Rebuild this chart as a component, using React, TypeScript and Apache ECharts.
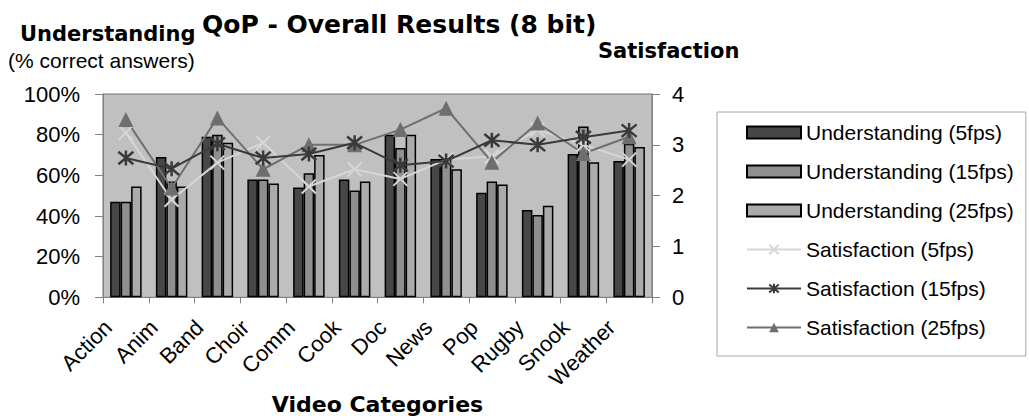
import React, { useEffect, useRef } from "react";
import * as echarts from "echarts";

const categories = ["Action", "Anim", "Band", "Choir", "Comm", "Cook", "Doc", "News", "Pop", "Rugby", "Snook", "Weather"];
const understanding5 = [47, 69, 79, 58, 54, 58, 80, 68, 51.5, 43, 70.5, 67];
const understanding15 = [47, 57, 80, 58, 61, 52.5, 73.5, 68, 57, 40.5, 84, 75.5];
const understanding25 = [54.5, 54.5, 76, 56, 70, 57, 80, 63, 55.5, 45, 66.5, 74];
const satisfaction5 = [3.24, 1.92, 2.65, 3.04, 2.18, 2.52, 2.33, 2.71, 2.77, 3.3, 3.0, 2.71];
const satisfaction15 = [2.74, 2.53, 3.02, 2.74, 2.82, 3.04, 2.6, 2.68, 3.09, 3.0, 3.15, 3.28];
const satisfaction25 = [3.5, 2.15, 3.53, 2.52, 3.0, 3.0, 3.3, 3.72, 2.66, 3.43, 2.83, 3.16];
const leftTicks = [0, 100, 20];
const rightTicks = [0, 4, 1];

const REG = '"Liberation Sans", Arial, sans-serif';
const BOLD = '"DejaVu Sans", sans-serif';

const X_PATH = "path://M0,0L10,10M10,0L0,10";
const STAR_PATH = "path://M0,0L10,10M10,0L0,10M5,-1L5,11";

export default function App() {
  const ref = useRef<HTMLDivElement>(null);
  useEffect(() => {
    if (!ref.current) return;
    const chart = echarts.init(ref.current, null, { renderer: "svg" });
    const barBase = { type: "bar", barWidth: 10.5, barGap: "0%" };
    const option: any = {
      animation: false,
      backgroundColor: "#ffffff",
      title: {
        text: "QoP - Overall Results (8 bit)",
        left: 202,
        top: 12,
        padding: 0,
        textStyle: { fontFamily: BOLD, fontWeight: "bold", fontSize: 25, color: "#000" },
      },
      graphic: [
        { type: "text", x: 20, y: 23, style: { text: "Understanding", font: `bold 21px ${BOLD}`, fill: "#000", verticalAlign: "top" } },
        { type: "text", x: 8, y: 50, style: { text: "(% correct answers)", font: `21px ${REG}`, fill: "#000", verticalAlign: "top" } },
        { type: "text", x: 598, y: 40, style: { text: "Satisfaction", font: `bold 21px ${BOLD}`, fill: "#000", verticalAlign: "top" } },
      ],
      grid: {
        left: 103,
        right: 377,
        top: 94,
        bottom: 117,
        show: true,
        backgroundColor: "#c0c0c0",
        borderColor: "#707070",
        borderWidth: 1,
      },
      legend: {
        orient: "vertical",
        left: 717,
        top: 112,
        padding: [10, 12, 18, 29],
        itemGap: 18,
        itemWidth: 54,
        itemHeight: 12,
        borderColor: "#a8a8a8",
        borderWidth: 1,
        textStyle: { fontSize: 21, fontFamily: REG, color: "#000" },
        data: [
          { name: "Understanding (5fps)", icon: "rect" },
          { name: "Understanding (15fps)", icon: "rect" },
          { name: "Understanding (25fps)", icon: "rect" },
          { name: "Satisfaction (5fps)" },
          { name: "Satisfaction (15fps)" },
          { name: "Satisfaction (25fps)" },
        ],
      },
      xAxis: {
        type: "category",
        data: categories,
        axisLine: { lineStyle: { color: "#808080", width: 1 } },
        axisTick: { show: true, length: 6, lineStyle: { color: "#808080" } },
        axisLabel: {
          rotate: 45,
          interval: 0,
          align: "right",
          verticalAlign: "bottom",
          padding: [0, 0, 14, 0],
          margin: 44,
          fontSize: 22,
          fontFamily: REG,
          color: "#000",
        },
        name: "Video Categories",
        nameLocation: "middle",
        nameGap: 87,
        nameTextStyle: { fontFamily: BOLD, fontWeight: "bold", fontSize: 22, color: "#000" },
      },
      yAxis: [
        {
          type: "value",
          position: "left",
          min: leftTicks[0],
          max: leftTicks[1],
          interval: leftTicks[2],
          axisLine: { show: true, lineStyle: { color: "#808080" } },
          axisTick: { show: true, length: 8, lineStyle: { color: "#808080" } },
          axisLabel: { formatter: "{value}%", margin: 23, fontSize: 22, fontFamily: REG, color: "#000" },
          splitLine: { show: false },
        },
        {
          type: "value",
          position: "right",
          min: rightTicks[0],
          max: rightTicks[1],
          interval: rightTicks[2],
          axisLine: { show: true, lineStyle: { color: "#808080" } },
          axisTick: { show: true, length: 8, lineStyle: { color: "#808080" } },
          axisLabel: { margin: 20, fontSize: 22, fontFamily: REG, color: "#000" },
          splitLine: { show: false },
        },
      ],
      series: [
        { ...barBase, name: "Understanding (5fps)", data: understanding5, itemStyle: { color: "#474747", borderColor: "#000", borderWidth: 1.5 } },
        { ...barBase, name: "Understanding (15fps)", data: understanding15, itemStyle: { color: "#8f8f8f", borderColor: "#000", borderWidth: 1.5 } },
        { ...barBase, name: "Understanding (25fps)", data: understanding25, itemStyle: { color: "#ababab", borderColor: "#000", borderWidth: 1.5 } },
        {
          type: "line",
          name: "Satisfaction (5fps)",
          yAxisIndex: 1,
          data: satisfaction5,
          symbol: X_PATH,
          symbolSize: 14,
          z: 4,
          lineStyle: { color: "#d6d6d6", width: 2 },
          itemStyle: { color: "#d6d6d6", borderColor: "#d6d6d6", borderWidth: 2 },
        },
        {
          type: "line",
          name: "Satisfaction (15fps)",
          yAxisIndex: 1,
          data: satisfaction15,
          symbol: STAR_PATH,
          symbolSize: 15,
          z: 5,
          lineStyle: { color: "#3a3a3a", width: 2 },
          itemStyle: { color: "#3a3a3a", borderColor: "#3a3a3a", borderWidth: 2.5 },
        },
        {
          type: "line",
          name: "Satisfaction (25fps)",
          yAxisIndex: 1,
          data: satisfaction25,
          symbol: "triangle",
          symbolSize: 15,
          z: 4,
          lineStyle: { color: "#707070", width: 2 },
          itemStyle: { color: "#6e6e6e" },
        },
      ],
    };
    chart.setOption(option);
    return () => chart.dispose();
  }, []);
  return (
    <div
      ref={ref}
      style={{ position: "fixed", left: 0, top: 0, width: 1029, height: 416, background: "#fff" }}
    />
  );
}
